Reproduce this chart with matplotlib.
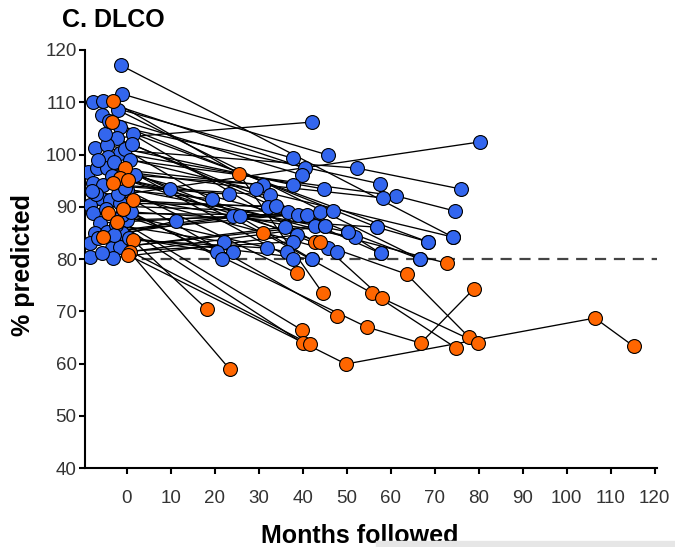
import matplotlib
matplotlib.use('Agg')
import matplotlib.pyplot as plt
from matplotlib.patches import Rectangle

plt.rcParams['font.family'] = ['Liberation Sans', 'DejaVu Sans']

# each patient: months of visits and DLCO % predicted at those visits
blue_months = [
    [-1.4, 74.1], [-1.1, 45.7], [-7.7, 37.7], [-5.5, 40.5], [-5.7, 39.8],
    [-1.6, 57.5], [-2.3, 42.0], [-7.3, 52.3, 75.9], [-4.5, 37.7], [-1.6, 44.8],
    [-4.3, 61.1, 74.5], [-8.9, 30.9], [-6.8, 29.3], [-4.5, 58.2], [-7.7, 32.5],
    [-5.5, 23.2], [0.0, 19.3], [-6.1, 80.2], [-3.9, 32.0], [-1.6, 33.9],
    [-8.4, 36.6], [-7.7, 38.9], [0.0, 40.9], [-6.1, 43.9], [-7.3, 46.8],
    [-4.5, 24.1], [-1.1, 25.7], [-8.4, 11.1], [-3.4, 9.8], [-3.4, 35.9],
    [-1.6, 42.7], [-8.4, 45.0], [-3.2, 38.6], [-5.7, 37.7], [-2.5, 22.0],
    [-6.5, 31.8], [-1.0, 36.4], [-2.8, 20.5], [-4.8, 24.1], [-7.0, 21.6],
    [-3.0, 37.7], [-0.5, 42.0], [-6.5, 45.7], [-2.0, 47.7], [-5.0, 50.2, 66.6],
    [-8.0, 51.8, 57.7], [-4.0, 56.8, 68.4],
    [1.5, 68.4], [0.8, 74.1], [1.0, 56.8], [-0.5, 50.2], [1.8, 45.0],
    [0.5, 42.0], [-2.0, 66.6], [1.2, 57.7],
]
blue_pct = [
    [117.1, 84.2], [111.6, 99.9], [110.1, 99.3], [110.2, 97.4], [107.6, 96.1],
    [105.3, 94.4], [103.2, 106.2], [101.2, 97.4, 93.4], [101.8, 94.2], [100.3, 93.4],
    [99.5, 92.1, 89.2], [96.7, 94.2], [97.4, 93.4], [97.4, 91.7], [94.5, 92.2],
    [94.2, 92.4], [93.2, 91.5], [91.7, 102.4], [91.3, 90.0], [90.7, 90.1],
    [90.3, 89.0], [88.8, 88.4], [87.5, 88.4], [86.9, 89.0], [85.0, 89.2],
    [85.2, 88.2], [85.0, 88.2], [83.1, 87.3], [95.8, 93.4], [82.1, 86.1],
    [82.3, 86.3], [80.4, 86.3], [80.2, 84.6], [81.2, 83.3], [86.5, 83.3],
    [84.0, 82.1], [88.5, 81.3], [84.5, 81.3], [89.5, 81.3], [92.5, 80.0],
    [98.5, 80.0], [101.0, 80.0], [99.0, 82.1], [92.5, 81.3], [104.0, 85.2, 80.0],
    [93.0, 84.2, 81.1], [106.5, 86.1, 83.3],
    [104.0, 83.3], [99.0, 84.2], [89.0, 86.1], [93.5, 85.2], [96.0, 86.3],
    [84.0, 80.0], [108.5, 80.0], [102.0, 81.1],
]
orange_months = [
    [-3.2, 25.5, 44.5], [-3.4, 42.7, 63.6, 77.7], [-0.5, 30.9, 55.7, 74.8],
    [-1.6, 43.9, 58.0, 79.8], [0.2, 72.7], [-3.2, 38.6], [1.4, 47.7],
    [-4.3, 39.8], [-2.3, 40.0], [1.4, 18.2], [-5.5, 41.6], [0.7, 23.4],
    [0.2, 49.8, 106.4, 115.2], [-0.8, 54.5, 66.8, 78.9],
]
orange_pct = [
    [110.2, 96.3, 73.5], [106.2, 83.3, 77.1, 65.1], [97.4, 85.0, 73.5, 63.0],
    [95.5, 83.3, 72.5, 63.9], [95.1, 79.2], [94.5, 77.3], [91.3, 69.1],
    [88.8, 66.4], [87.1, 63.9], [83.6, 70.4], [84.2, 63.7], [81.3, 58.9],
    [80.8, 59.9, 68.7, 63.3], [89.5, 67.0, 63.9, 74.3],
]
xticks = list(range(0, 121, 10))
yticks = list(range(40, 121, 10))
cutoff = 80

fig = plt.figure(figsize=(6.75, 5.47), dpi=100)
ax = fig.add_axes([0.1259, 0.1444, 0.8474, 0.7642])

ax.plot([-9.5, 120.5], [cutoff, cutoff], color='#444444', lw=1.6,
        dashes=(5, 3.5), zorder=1)

groups = [(blue_months, blue_pct, '#3366ee'), (orange_months, orange_pct, '#ff6600')]
for mo, pc, col in groups:
    for m, p in zip(mo, pc):
        ax.plot(m, p, '-', color='black', lw=0.95, zorder=2)
for mo, pc, col in groups:
    for m, p in zip(mo, pc):
        ax.plot(m, p, 'o', ms=10, mfc=col, mec='black', mew=0.8, zorder=3)

ax.set_xlim(-9.5, 120.5)
ax.set_ylim(40, 120)
ax.set_xticks(xticks)
ax.set_yticks(yticks)
ax.spines['top'].set_visible(False)
ax.spines['right'].set_visible(False)
for s in ['left', 'bottom']:
    ax.spines[s].set_linewidth(1.5)
ax.tick_params(direction='out', length=4, width=1.5, labelsize=13.5,
               labelcolor='#333333')
ax.tick_params(axis='x', pad=12)
ax.tick_params(axis='y', pad=2)

fig.text(0.092, 0.986, 'C. DLCO', fontsize=18, fontweight='bold', va='top', ha='left')
fig.text(0.034, 0.515, '% predicted', fontsize=18, fontweight='bold', rotation=90,
         va='center', ha='center')
fig.text(0.533, 0.008, 'Months followed', fontsize=18, fontweight='bold',
         va='baseline', ha='center')
fig.patches.append(Rectangle((376 / 675, 0), 1 - 376 / 675, 6 / 547,
                             transform=fig.transFigure, color='#e6e6e6', zorder=5))

fig.savefig('out.png', dpi=100)
